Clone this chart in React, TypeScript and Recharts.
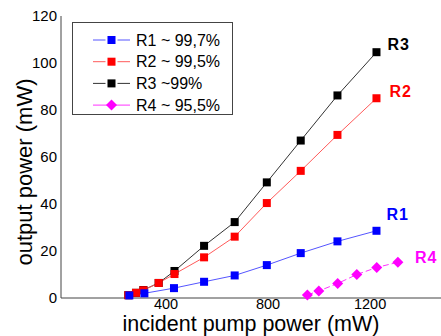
import React from "react";
import { LineChart, Line, XAxis, YAxis, Legend, LabelList } from "recharts";

// Incident pump power (mW) and output power (mW) for each mirror reflectivity
const r1Pump = [256, 315, 431, 549, 669, 795, 928, 1072, 1225];
const r1Out = [1.1, 2.0, 4.2, 6.9, 9.6, 14.0, 19.1, 24.1, 28.6];

const r2Pump = [252, 282, 311, 371, 433, 549, 669, 795, 928, 1072, 1225];
const r2Out = [1.2, 2.2, 3.3, 6.4, 10.2, 17.3, 26.1, 40.4, 54.1, 69.4, 85.0];

const r3Pump = [252, 282, 311, 371, 433, 549, 669, 795, 928, 1072, 1225];
const r3Out = [1.2, 2.2, 3.4, 6.4, 11.5, 22.2, 32.3, 49.2, 67.0, 86.2, 104.6];

const r4Pump = [954, 999, 1073, 1148, 1226, 1309];
const r4Out = [1.3, 3.0, 6.2, 10.0, 13.0, 15.2];

const xTicks = [400, 800, 1200];
const yTicks = [0, 20, 40, 60, 80, 100, 120];

const seriesNames = ["R1", "R2", "R3", "R4"];
const legendLabels = ["R1 ~ 99,7%", "R2 ~ 99,5%", "R3 ~99%", "R4 ~ 95,5%"];

const toRows = (pump: number[], out: number[]) =>
  pump.map((p, i) => ({ p, v: out[i] }));

const FONT = "'Liberation Sans', Arial, Helvetica, sans-serif";

type Style = {
  marker: string;
  line: string;
  shape: "square" | "diamond";
  dash?: string;
  labelDx: number;
  labelDy: number;
  labelColor: string;
};

const styles: Record<string, Style> = {
  R1: { marker: "#0000ff", line: "#5555ff", shape: "square", labelDx: 10, labelDy: -16, labelColor: "#0000ff" },
  R2: { marker: "#ff0000", line: "#ff5a5a", shape: "square", labelDx: 13, labelDy: -7, labelColor: "#ff0000" },
  R3: { marker: "#000000", line: "#333333", shape: "square", labelDx: 11, labelDy: -8, labelColor: "#000000" },
  R4: { marker: "#ff00ff", line: "#ff33ff", shape: "diamond", dash: "6 3", labelDx: 17, labelDy: -5, labelColor: "#ff00ff" },
};

const series = [
  { name: "R3", data: toRows(r3Pump, r3Out) },
  { name: "R2", data: toRows(r2Pump, r2Out) },
  { name: "R1", data: toRows(r1Pump, r1Out) },
  { name: "R4", data: toRows(r4Pump, r4Out) },
];

const Marker = ({ cx, cy, shape, color }: { cx: number; cy: number; shape: string; color: string }) =>
  shape === "diamond" ? (
    <polygon
      points={`${cx},${cy - 5.5} ${cx + 5.5},${cy} ${cx},${cy + 5.5} ${cx - 5.5},${cy}`}
      fill={color}
    />
  ) : (
    <rect x={cx - 4} y={cy - 4} width={8} height={8} fill={color} />
  );

const makeDot = (name: string) => (props: any) => {
  const s = styles[name];
  if (props.cx == null || props.cy == null) return <g key={`e-${props.index}`} />;
  return (
    <g key={`${name}-${props.index}`}>
      <Marker cx={props.cx} cy={props.cy} shape={s.shape} color={s.marker} />
    </g>
  );
};

const makeEndLabel = (name: string, lastIndex: number) => (props: any) => {
  if (props.index !== lastIndex) return null;
  const s = styles[name];
  return (
    <text
      x={props.x + s.labelDx}
      y={props.y + s.labelDy}
      fill={s.labelColor}
      fontFamily={FONT}
      fontWeight="bold"
      fontSize={16}
      letterSpacing={1}
      dominantBaseline="central"
    >
      {name}
    </text>
  );
};

const LegendBox = () => (
  <div
    style={{
      width: 161,
      height: 93,
      border: "1px solid #444",
      boxSizing: "border-box",
      background: "#fff",
    }}
  >
    <svg width={159} height={91} style={{ display: "block" }}>
      {seriesNames.map((n, i) => {
        const s = styles[n];
        const y = 17 + i * 21.7;
        const gap = s.shape === "diamond" ? 0 : 2;
        return (
          <g key={n}>
            <line x1={20} x2={38.5 - 4 - gap} y1={y} y2={y} stroke={s.line} strokeWidth={1} />
            <line x1={38.5 + 4 + gap} x2={57} y1={y} y2={y} stroke={s.line} strokeWidth={1} />
            <Marker cx={38.5} cy={y} shape={s.shape} color={s.marker} />
            <text
              x={63}
              y={y}
              fontFamily={FONT}
              fontSize={16}
              fill="#000"
              dominantBaseline="central"
            >
              {legendLabels[i]}
            </text>
          </g>
        );
      })}
    </svg>
  </div>
);

export default function App() {
  return (
    <div style={{ position: "absolute", left: 0, top: 0, width: 441, height: 336, background: "#fff" }}>
      <LineChart
        width={441}
        height={336}
        margin={{ top: 16, right: 0, bottom: 0, left: 0 }}
        style={{ fontFamily: FONT }}
      >
        <XAxis
          type="number"
          dataKey="p"
          domain={[-12, 1478]}
          ticks={xTicks}
          allowDataOverflow
          height={38}
          tickLine={false}
          tickSize={1}
          tickMargin={0}
          axisLine={{ stroke: "#444", strokeWidth: 1 }}
          tick={{ fill: "#000", fontSize: 14.5, fontFamily: FONT }}
          label={{
            value: "incident pump power (mW)",
            position: "insideBottom",
            offset: 5,
            fill: "#000",
            fontSize: 21.5,
            fontFamily: FONT,
          }}
        />
        <YAxis
          type="number"
          dataKey="v"
          domain={[0, 120]}
          ticks={yTicks}
          width={61}
          tickLine={false}
          tickSize={3}
          tickMargin={1}
          axisLine={{ stroke: "#444", strokeWidth: 1 }}
          tick={{ fill: "#000", fontSize: 15, fontFamily: FONT }}
          label={{
            content: () => (
              <text
                x={32}
                y={172}
                transform="rotate(-90 32 172)"
                textAnchor="middle"
                fontFamily={FONT}
                fontSize={22}
                fill="#000"
              >
                output power (mW)
              </text>
            ),
          }}
        />
        <Legend
          layout="vertical"
          align="center"
          verticalAlign="middle"
          wrapperStyle={{ left: 72, top: 22, width: 161, height: 93 }}
          content={() => <LegendBox />}
        />
        {series.map((s) => {
          const st = styles[s.name];
          return (
            <Line
              key={s.name}
              data={s.data}
              dataKey="v"
              name={s.name}
              type="linear"
              stroke={st.line}
              strokeWidth={1}
              strokeDasharray={st.dash}
              dot={makeDot(s.name)}
              activeDot={false}
              isAnimationActive={false}
            >
              <LabelList dataKey="v" content={makeEndLabel(s.name, s.data.length - 1)} />
            </Line>
          );
        })}
      </LineChart>
    </div>
  );
}
